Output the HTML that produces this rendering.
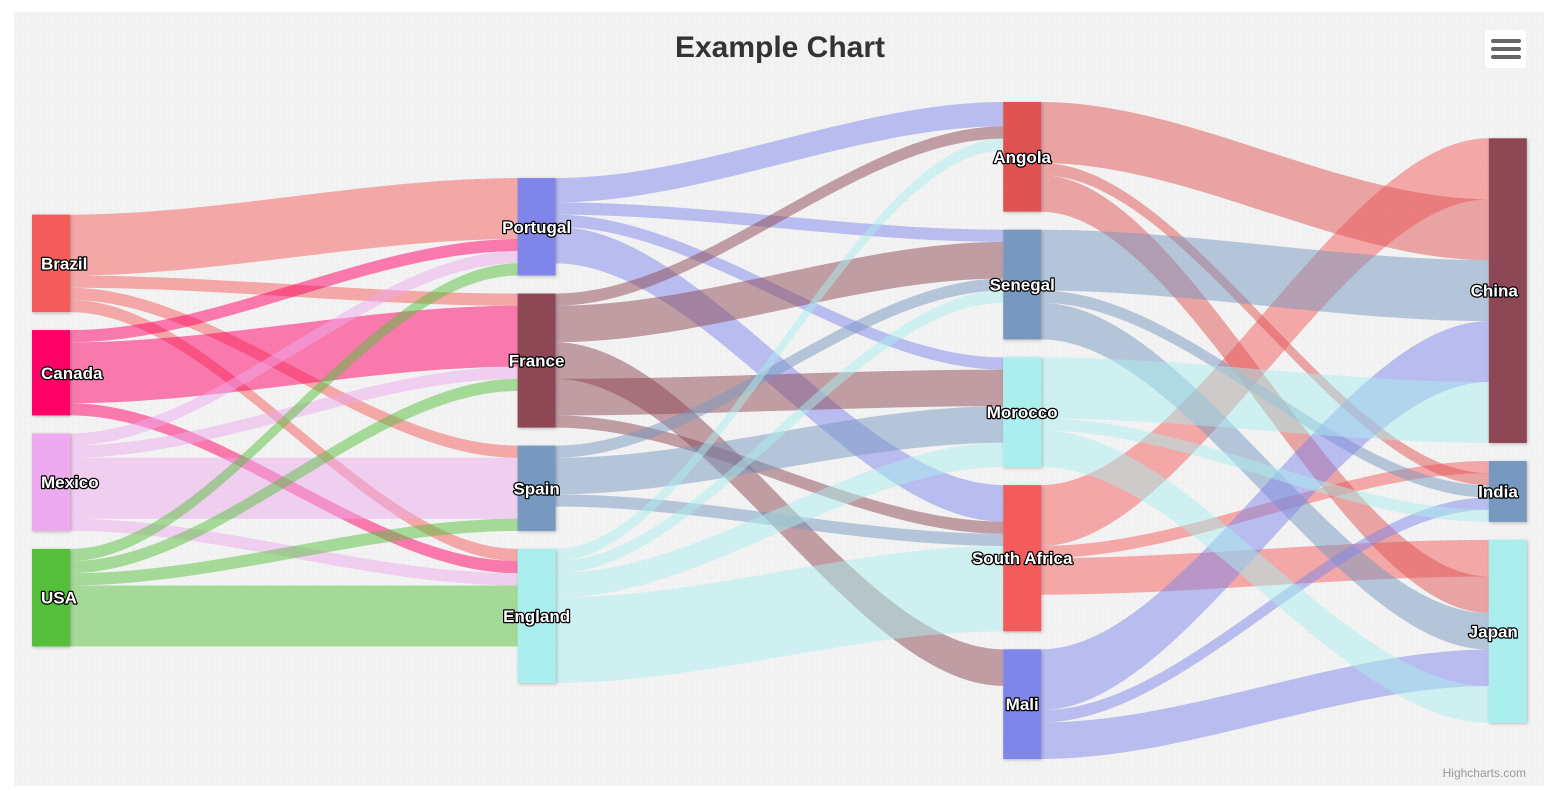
<!DOCTYPE html>
<html><head><meta charset="utf-8"><style>
html,body{margin:0;padding:0;background:#fff;width:1558px;height:800px;overflow:hidden}
svg text{font-family:"Liberation Sans",sans-serif}
</style></head><body>
<svg id="chart" width="1558" height="800" xmlns="http://www.w3.org/2000/svg">
<defs>
<pattern id="tex" width="6" height="6" patternUnits="userSpaceOnUse"><rect width="6" height="6" fill="#f2f2f2"/><rect x="1" y="2" width="1" height="1" fill="#e8e8e8"/><rect x="4" y="4" width="1" height="1" fill="#fafafa"/></pattern>
<filter id="sh" x="-20%" y="-10%" width="150%" height="130%"><feDropShadow dx="1" dy="1" stdDeviation="1.5" flood-color="#000" flood-opacity="0.25"/></filter>
</defs>
<rect x="14" y="12" width="1530" height="774" fill="url(#tex)"/>
<text x="780" y="57" text-anchor="middle" font-size="30" font-weight="bold" fill="#333">Example Chart</text>
<g>
<rect x="1485" y="30" width="41" height="38" rx="3" fill="#fff"/>
<rect x="1491" y="39" width="30" height="4" rx="2" fill="#666"/>
<rect x="1491" y="47" width="30" height="4" rx="2" fill="#666"/>
<rect x="1491" y="55" width="30" height="4" rx="2" fill="#666"/>
</g>
<text x="1526" y="777" text-anchor="end" font-size="12" fill="#999">Highcharts.com</text>
<g id="links"></g><g id="nodes"></g><g id="labels"></g>
</svg>
<script>
const sources=['Brazil','Brazil','Brazil','Brazil','Canada','Canada','Canada','Mexico','Mexico','Mexico','Mexico','USA','USA','USA','USA','Portugal','Portugal','Portugal','Portugal','France','France','France','France','France','Spain','Spain','Spain','England','England','England','England','South Africa','South Africa','South Africa','Angola','Angola','Angola','Senegal','Senegal','Senegal','Mali','Mali','Mali','Morocco','Morocco','Morocco'];
const targets=['Portugal','France','Spain','England','Portugal','France','England','Portugal','France','Spain','England','Portugal','France','Spain','England','Angola','Senegal','Morocco','South Africa','Angola','Senegal','Mali','Morocco','South Africa','Senegal','Morocco','South Africa','Angola','Senegal','Morocco','South Africa','China','India','Japan','China','India','Japan','China','India','Japan','China','India','Japan','China','India','Japan'];
const weights=[5,1,1,1,1,5,1,1,1,5,1,1,1,1,5,2,1,1,3,1,3,3,3,1,1,3,1,1,1,2,7,5,1,3,5,1,3,5,1,3,5,1,3,5,1,3];
const palette=["#f45b5b","#8085e9","#8d4654","#7798BF","#aaeeee","#ff0066","#eeaaee","#55BF3B","#DF5353","#7798BF","#aaeeee"];

const NS='http://www.w3.org/2000/svg';
const names=[];
sources.forEach((s,i)=>{[s,targets[i]].forEach(n=>{if(!names.includes(n))names.push(n);});});
const nodes={};
names.forEach((n,i)=>nodes[n]={name:n,color:palette[i%palette.length],in:[],out:[],col:0});
sources.forEach((s,i)=>{nodes[s].out.push(i);nodes[targets[i]].in.push(i);});
let changed=true;
while(changed){changed=false;sources.forEach((s,i)=>{const t=nodes[targets[i]];if(t.col<nodes[s].col+1){t.col=nodes[s].col+1;changed=true;}});}
names.forEach(n=>{const nd=nodes[n];const si=nd.in.reduce((a,i)=>a+weights[i],0);const so=nd.out.reduce((a,i)=>a+weights[i],0);nd.sum=Math.max(si,so);});
const cols=[];names.forEach(n=>{const c=nodes[n].col;(cols[c]=cols[c]||[]).push(nodes[n]);});
const plotTop=102,plotH=657,pad=18,center=430.5,nodeW=38,x0=32,colStep=485.6;
let factor=Infinity;
cols.forEach(c=>{const s=c.reduce((a,n)=>a+n.sum,0);factor=Math.min(factor,(plotH-(c.length-1)*pad)/s);});
cols.forEach((c,ci)=>{const tot=c.reduce((a,n)=>a+n.sum*factor,0)+(c.length-1)*pad;let y=center-tot/2;
c.forEach(n=>{n.x=x0+ci*colStep;n.y=y;n.h=n.sum*factor;y+=n.h+pad;n.oy=n.y;n.iy=n.y;});});

const gl=document.getElementById('links');
sources.forEach((s,i)=>{const a=nodes[s],b=nodes[targets[i]];const h=weights[i]*factor;
const fx=a.x+nodeW,tx=b.x,fy=a.oy,ty=b.iy;a.oy+=h;b.iy+=h;const c=(tx-fx)*0.33;
const p=document.createElementNS(NS,'path');
p.setAttribute('d',`M${fx},${fy} C${fx+c},${fy} ${tx-c},${ty} ${tx},${ty} L${tx},${ty+h} C${tx-c},${ty+h} ${fx+c},${fy+h} ${fx},${fy+h} Z`);
p.setAttribute('fill',a.color);p.setAttribute('fill-opacity','0.5');


gl.appendChild(p);});

const gn=document.getElementById('nodes'),gt=document.getElementById('labels');
names.forEach(n=>{const nd=nodes[n];const slug=n.toLowerCase().replace(/ /g,'-');
const r=document.createElementNS(NS,'rect');
r.setAttribute('x',nd.x);r.setAttribute('y',nd.y);r.setAttribute('width',nodeW);r.setAttribute('height',nd.h);
r.setAttribute('fill',nd.color);r.setAttribute('filter','url(#sh)');


gn.appendChild(r);
const t=document.createElementNS(NS,'text');
let tx=nd.x+nodeW/2,anchor='middle';
if(nd.col===0){tx=nd.x+9;anchor='start';}
if(nd.col===cols.length-1){tx=nd.x+29;anchor='end';}
t.setAttribute('x',tx);t.setAttribute('y',nd.y+nd.h/2+6);t.setAttribute('text-anchor',anchor);
t.setAttribute('font-size','17');t.setAttribute('font-weight','bold');t.setAttribute('fill','#fff');
t.setAttribute('stroke','#000');t.setAttribute('stroke-width','2.5');t.setAttribute('paint-order','stroke');t.setAttribute('stroke-linejoin','round');
t.textContent=n;


gt.appendChild(t);});
</script>
</body></html>
